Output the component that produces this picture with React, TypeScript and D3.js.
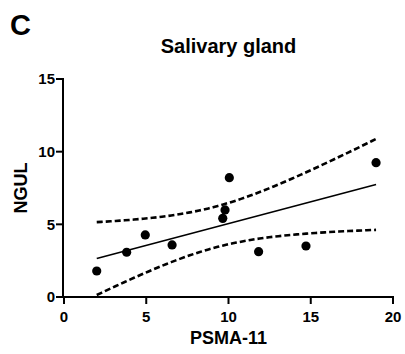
import React from "react";
import * as d3 from "d3";

const psma: number[] = [1.99, 3.81, 4.94, 6.57, 9.65, 9.79, 10.05, 11.83, 14.71, 18.97];
const ngul: number[] = [1.79, 3.08, 4.27, 3.58, 5.41, 5.99, 8.21, 3.12, 3.51, 9.24];
const xTicks: number[] = [0, 5, 10, 15, 20];
const yTicks: number[] = [0, 5, 10, 15];
const tCrit = 2.306; // t(0.975, df=8)

const W = 405;
const H = 354;
const M = { left: 64, right: 393, top: 79, bottom: 297 };
const FONT = "'Liberation Sans', Arial, Helvetica, sans-serif";

export default function App() {
  const x = d3.scaleLinear().domain([0, 20]).range([M.left, M.right]);
  const y = d3.scaleLinear().domain([0, 15]).range([M.bottom, M.top]);

  const n = psma.length;
  const mx = d3.mean(psma)!;
  const my = d3.mean(ngul)!;
  let sxx = 0, sxy = 0;
  for (let i = 0; i < n; i++) {
    sxx += (psma[i] - mx) ** 2;
    sxy += (psma[i] - mx) * (ngul[i] - my);
  }
  const slope = sxy / sxx;
  const intercept = my - slope * mx;
  let sse = 0;
  for (let i = 0; i < n; i++) sse += (ngul[i] - (intercept + slope * psma[i])) ** 2;
  const s = Math.sqrt(sse / (n - 2));
  const [xmin, xmax] = d3.extent(psma) as [number, number];
  const samples = d3.range(0, 61).map((k) => xmin + ((xmax - xmin) * k) / 60);
  const half = (xv: number) => tCrit * s * Math.sqrt(1 / n + (xv - mx) ** 2 / sxx);
  const line = d3.line<[number, number]>().x((d) => x(d[0])).y((d) => y(d[1]));
  const upper = line(samples.map((xv) => [xv, intercept + slope * xv + half(xv)]))!;
  const lower = line(samples.map((xv) => [xv, intercept + slope * xv - half(xv)]))!;
  const fit = line([xmin, xmax].map((xv) => [xv, intercept + slope * xv]))!;

  return (
    <svg width={W} height={H} style={{ position: "absolute", left: 0, top: 0, background: "#fff" }} fontFamily={FONT}>
      <rect width={W} height={H} fill="#fff" />
      <text x={10} y={35} fontSize={29} fontWeight="bold">C</text>
      <text x={(M.left + M.right) / 2} y={53} fontSize={20} fontWeight="bold" textAnchor="middle">Salivary gland</text>

      {/* bands and fit */}
      <path d={upper} fill="none" stroke="#000" strokeWidth={2.6} strokeDasharray="6,3" />
      <path d={lower} fill="none" stroke="#000" strokeWidth={2.6} strokeDasharray="6,3" />
      <path d={fit} fill="none" stroke="#000" strokeWidth={1.6} />

      {psma.map((xv, i) => (
        <circle key={i} cx={x(xv)} cy={y(ngul[i])} r={4.6} fill="#000" />
      ))}

      {/* y axis */}
      <line x1={M.left - 1} x2={M.left - 1} y1={y(15) - 1} y2={M.bottom + 1} stroke="#000" strokeWidth={2} />
      {yTicks.map((t) => (
        <g key={t}>
          <line x1={M.left - 8} x2={M.left - 1} y1={y(t)} y2={y(t)} stroke="#000" strokeWidth={2} />
          <text x={M.left - 9} y={y(t)} dy="0.36em" fontSize={15} fontWeight="bold" textAnchor="end">{t}</text>
        </g>
      ))}
      {/* x axis */}
      <line x1={M.left - 2} x2={x(20) + 1} y1={M.bottom} y2={M.bottom} stroke="#000" strokeWidth={2} />
      {xTicks.map((t) => (
        <g key={t}>
          <line x1={x(t)} x2={x(t)} y1={M.bottom} y2={M.bottom + 7} stroke="#000" strokeWidth={2} />
          <text x={x(t)} y={M.bottom + 25} fontSize={15} fontWeight="bold" textAnchor="middle">{t}</text>
        </g>
      ))}
      <text x={(M.left + M.right) / 2} y={344} fontSize={18} fontWeight="bold" textAnchor="middle">PSMA-11</text>
      <text transform={`translate(27, ${(M.top + M.bottom) / 2}) rotate(-90)`} fontSize={18} fontWeight="bold" textAnchor="middle">NGUL</text>
    </svg>
  );
}
